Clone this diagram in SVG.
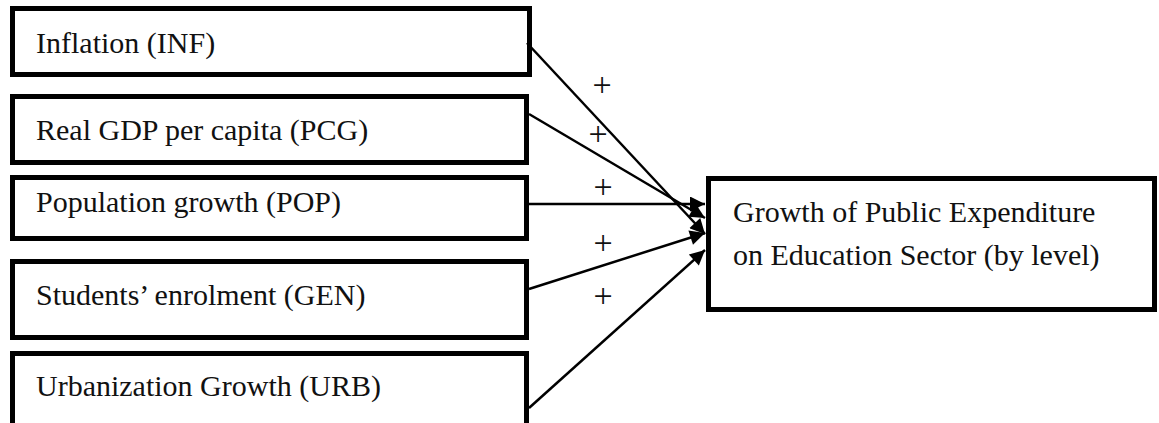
<svg xmlns="http://www.w3.org/2000/svg" width="1159" height="423" viewBox="0 0 1159 423">
  <style>
    .box { fill: #ffffff; stroke: #000000; stroke-width: 5; }
    .label { font-family: "Liberation Serif", "Times New Roman", serif; font-size: 30px; fill: #111111; }
    .sign { font-family: "Liberation Serif", "Times New Roman", serif; font-size: 34px; fill: #111111; text-anchor: middle; }
    .link { stroke: #000000; stroke-width: 2.5; fill: none; marker-end: url(#arrow); }
  </style>
  <defs>
    <marker id="arrow" viewBox="0 0 10 10" refX="10" refY="5" markerWidth="7.5" markerHeight="6" orient="auto" markerUnits="strokeWidth">
      <path d="M0,0 L10,5 L0,10 z" fill="#000000"/>
    </marker>
  </defs>
  <rect width="1159" height="423" fill="#ffffff"/>

  <g id="node-inf">
    <rect class="box" x="12.5" y="8.5" width="517" height="66"/>
    <text class="label" x="36" y="53">Inflation (INF)</text>
  </g>
  <g id="node-pcg">
    <rect class="box" x="12.5" y="96.5" width="514" height="66"/>
    <text class="label" x="36" y="140">Real GDP per capita (PCG)</text>
  </g>
  <g id="node-pop">
    <rect class="box" x="12.5" y="177.5" width="514" height="61"/>
    <text class="label" x="36" y="212">Population growth (POP)</text>
  </g>
  <g id="node-gen">
    <rect class="box" x="12.5" y="261.5" width="514" height="76"/>
    <text class="label" x="36" y="305">Students’ enrolment (GEN)</text>
  </g>
  <g id="node-urb">
    <rect class="box" x="12.5" y="353.5" width="514" height="90"/>
    <text class="label" x="36" y="396">Urbanization Growth (URB)</text>
  </g>
  <g id="node-target">
    <rect class="box" x="708.5" y="178.5" width="446" height="131"/>
    <text class="label" x="733" y="222">Growth of Public Expenditure</text>
    <text class="label" x="733" y="265">on Education Sector (by level)</text>
  </g>

  <g id="connectors">
    <line class="link" x1="527" y1="43" x2="705" y2="234"/>
    <line class="link" x1="529" y1="114" x2="705" y2="218"/>
    <line class="link" x1="529" y1="204" x2="705" y2="204"/>
    <line class="link" x1="529" y1="289" x2="705" y2="233"/>
    <line class="link" x1="529" y1="408" x2="705" y2="250"/>
    <text class="sign" x="602" y="96">+</text>
    <text class="sign" x="598" y="145">+</text>
    <text class="sign" x="603" y="198">+</text>
    <text class="sign" x="603" y="254">+</text>
    <text class="sign" x="603" y="307">+</text>
  </g>
</svg>
